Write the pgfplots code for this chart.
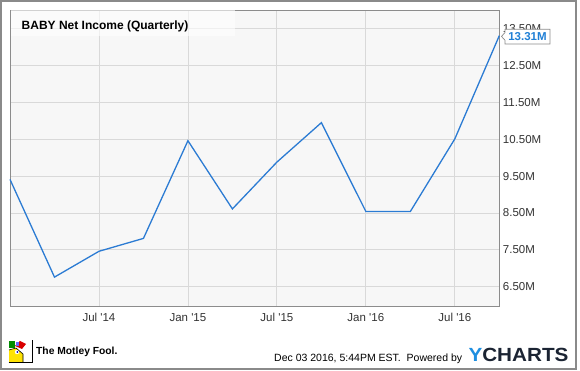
\documentclass[border=0pt]{standalone}
\usepackage{fontspec}
\setmainfont{Liberation Sans}[Ligatures=TeXOff]
\usepackage{pgfplots}
\pgfplotsset{compat=1.18}
\definecolor{lineblue}{HTML}{2B7BD3}
\definecolor{labelblue}{HTML}{1F7FD6}
\definecolor{plotbg}{HTML}{F7F7F7}
\definecolor{gridgray}{HTML}{D9D9D9}
\definecolor{axisgray}{HTML}{8C8C8C}
\definecolor{bordergray}{HTML}{8A8A8A}
\definecolor{textgray}{HTML}{333333}
\definecolor{ycblue}{HTML}{1E8FE1}
\definecolor{ycdark}{HTML}{1B2433}
\begin{document}
\begin{tikzpicture}[x=1pt,y=1pt]
\useasboundingbox (0,0) rectangle (580,371);
\fill[white] (0,0) rectangle (580,371);
\draw[color=bordergray, line width=1.5pt] (1,2) rectangle (576,370);
\begin{axis}[
  at={(10pt,65pt)}, anchor=south west,
  scale only axis, width=489.3pt, height=296pt,
  xmin=0, xmax=11, ymin=5.976, ymax=14.007,
  axis background/.style={fill=plotbg},
  axis line style={draw=axisgray, line width=0.8pt},
  grid=major,
  major grid style={draw=gridgray, line width=0.8pt},
  xtick={2,4,6,8,10},
  xticklabels={Jul '14, Jan '15, Jul '15, Jan '16, Jul '16},
  ytick={6.5,7.5,8.5,9.5,10.5,11.5,12.5,13.5},
  yticklabels={6.50M,7.50M,8.50M,9.50M,10.50M,11.50M,12.50M,13.50M},
  yticklabel pos=right,
  major tick length=0pt,
  tick style={draw=none},
  xticklabel style={anchor=north, inner sep=0pt, yshift=-7pt, font=\fontsize{11.5}{13}\selectfont, text=textgray},
  yticklabel style={anchor=west, inner sep=0pt, xshift=3.4pt, font=\fontsize{11.5}{13}\selectfont, text=textgray},
  clip=false,
]
\addplot[lineblue, line width=1.3pt] coordinates {
  (0,9.41) (1,6.76) (2,7.46) (3,7.81) (4,10.46) (5,8.61)
  (6,9.88) (7,10.95) (8,8.54) (9,8.54) (10,10.51) (11,13.31)
};
\end{axis}
% title box
\fill[white, opacity=0.6] (10.5,335) rectangle (235,360.5);
\node[anchor=base west, inner sep=0pt, font=\bfseries\fontsize{12}{14}\selectfont, text=black] at (21.5,341.7) {BABY Net Income (Quarterly)};
% callout
\draw[fill=white, draw=axisgray, line width=0.7pt] (505,341.7) -- (550,341.7) -- (550,327) -- (505,327) -- (505,330.7) -- (501.5,334.6) -- (505,338.5) -- cycle;
\node[inner sep=0pt, font=\bfseries\fontsize{11.5}{13}\selectfont, text=labelblue] at (527.5,334.4) {13.31M};
% footer
\fill[white] (8,8) rectangle (33,31);
\fill[yellow!85!orange] (9,9) -- (9,21) -- (16,23) -- (23,17) -- (23,9) -- cycle;
\fill[green!55!black] (9,23) rectangle (15,30);
\fill[red!85!black] (15,25) -- (20,30) -- (26,27) -- (22,22) -- cycle;
\fill[blue!60] (16,25) rectangle (19,29);
\fill[white] (17,19) circle (2.2);
\fill[blue!70!black] (17.3,19) circle (1);
\draw[black, line width=0.9pt] (8.5,8.5) -- (32.5,8.5) -- (32.5,30.5);
\draw[black, line width=0.6pt] (9,21) -- (16,23) -- (23,17) -- (23,9);
\node[anchor=base west, inner sep=0pt, font=\bfseries\fontsize{10.3}{12}\selectfont] at (36,16) {The Motley Fool.};
\node[anchor=base west, inner sep=0pt, font=\fontsize{10.5}{12}\selectfont, text=black] at (274,9.3) {Dec 03 2016, 5:44PM EST.\ \ Powered by};
\node[anchor=base west, inner sep=0pt] at (468.3,9.3) {\resizebox{100pt}{13.3pt}{\bfseries\textcolor{ycblue}{Y}\textcolor{ycdark}{CHARTS}}};
\end{tikzpicture}
\end{document}
